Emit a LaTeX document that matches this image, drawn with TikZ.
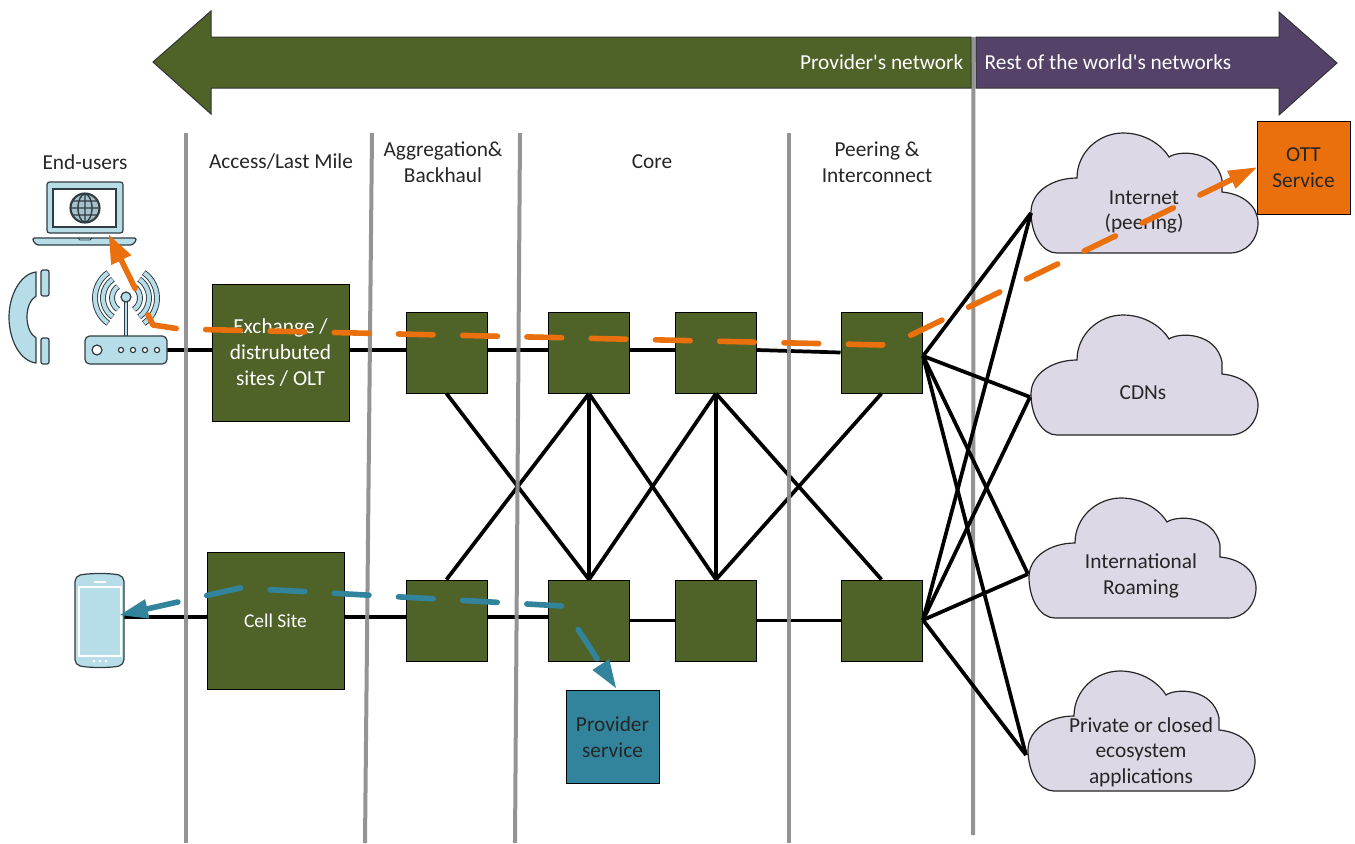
\documentclass[tikz,border=0pt]{standalone}
\usepackage{fontspec}
\setmainfont{Carlito}[Ligatures=TeXOff]
\usetikzlibrary{arrows.meta, positioning}

\definecolor{netgreen}{HTML}{4F6228}
\definecolor{netpurple}{HTML}{554268}
\definecolor{cloudfill}{HTML}{DDD8E6}
\definecolor{iconblue}{HTML}{B7DDE8}
\definecolor{icondark}{HTML}{2F3C42}
\definecolor{routeorange}{HTML}{E9700D}
\definecolor{routeblue}{HTML}{31849B}
\definecolor{divgrey}{HTML}{8E8E8E}

\begin{document}
\begin{tikzpicture}[x=0.75pt, y=-0.75pt,
            label/.style={font=\fontsize{16}{19.2}\selectfont, align=center, text=black!85},
            bandlabel/.style={font=\fontsize{16}{19.2}\selectfont, text=white},
            bandarrow/.style={draw=black!80, line width=0.75pt},
            router/.style={draw=black, fill=netgreen, line width=0.75pt, minimum width=60.75pt, minimum height=60.75pt, inner sep=0pt},
            site/.style={router, minimum width=102.75pt, minimum height=102.75pt, text=white, align=center, font=\fontsize{16}{19.2}\selectfont},
            service/.style={draw=black, line width=0.75pt, minimum width=69.75pt, minimum height=69.75pt, inner sep=0pt, align=center, font=\fontsize{16}{19.2}\selectfont, text=black!85},
            link/.style={line width=2.8pt},
            divider/.style={divgrey, line width=3pt, opacity=0.95},
            route/.style={line width=4.2pt, line cap=round, line join=round, dash pattern=on 26pt off 22.2pt, dash phase=2.5pt},
            icon/.style={draw=icondark, fill=iconblue, line width=0.9pt},
            cloudshape/.pic={
                \path[draw=black!85, fill=cloudfill, line width=0.9pt] (-87,61)
                    .. controls (-102,61) and (-113,42) .. (-113,20)
                    .. controls (-113,0) and (-92,-14) .. (-67,-14)
                    .. controls (-67,-40) and (-45,-59) .. (-21,-59)
                    .. controls (0,-59) and (17,-48) .. (25,-35)
                    .. controls (35,-42) and (72,-42) .. (78,-12)
                    -- (78,0)
                    .. controls (100,2) and (114,15) .. (114,31)
                    .. controls (114,48) and (102,61) .. (86,61) -- cycle;
            }]
    \useasboundingbox (0,0) rectangle (1355,843);

    % Column dividers
    \coordinate (diva) at (186,133);
    \coordinate (divb) at (372,133);
    \coordinate (divc) at (520,133);
    \coordinate (divd) at (789,133);
    \coordinate (dive) at (973.5,37);
    \coordinate (diva2) at (186,843);
    \coordinate (divb2) at (365,843);
    \coordinate (divc2) at (515,843);
    \coordinate (divd2) at (789,843);
    \coordinate (dive2) at (973,835);

    % Band arrows along the top
    \draw[divider] (dive) -- (dive2);
    \draw[bandarrow, fill=netgreen] (971,37) -- (211,37) -- (211,11) -- (153,62) -- (211,114) -- (211,88) -- (971,88) -- cycle;
    \draw[bandarrow, fill=netpurple] (976,37) -- (1279,37) -- (1279,12) -- (1337,63) -- (1279,115) -- (1279,88) -- (976,88) -- cycle;
    \node[bandlabel, anchor=east] (provnet) at (968,62) {Provider's network};
    \node[bandlabel, anchor=west] (restnet) at (980,62) {Rest of the world's networks};

    % Column titles
    \node[label] (endusers) at (85,162) {End-users};
    \node[label] (access) at (281,162) {Access/Last Mile};
    \node[label] (aggr) at (443,162) {Aggregation\&\\Backhaul};
    \node[label] (core) at (652,162) {Core};
    \node[label] (peer) at (877,162) {Peering \&\\Interconnect};

    % Clouds on the right
    \pic at (1144,192) {cloudshape};
    \pic at (1144,374) {cloudshape};
    \pic at (1142,557) {cloudshape};
    \pic at (1141,730) {cloudshape};
    \node[label] (inet) at (1144,212) {Internet\\(peering)};
    \node[label] (cdn) at (1143,393) {CDNs};
    \node[label] (roam) at (1141,576) {International\\Roaming};
    \node[label] (priv) at (1141,752) {Private or closed\\ecosystem\\applications};
    \coordinate (inetport) at (1031,213);
    \coordinate (cdnport) at (1030,397);
    \coordinate (roamport) at (1028,574);
    \coordinate (privport) at (1026,755);

    % Links under the boxes
    \coordinate (rtrport) at (167,350);
    \coordinate (mobport) at (124,617);
    \coordinate (petophub) at (923,356);
    \coordinate (pelowhub) at (923,620);

    % Boxes
    \node[site] (exch) at (280.5,352.5) {Exchange /\\distrubuted\\sites / OLT};
    \node[site, font=\fontsize{14.6}{17.5}\selectfont] (cell) at (275.5,620.5) {Cell Site};
    \node[router] (agtop) at (446.5,352.5) {};
    \node[router] (cotop) at (589,352.5) {};
    \node[router] (crtop) at (716,352.5) {};
    \node[router] (petop) at (881.5,352.5) {};
    \node[router] (aglow) at (446.5,620.5) {};
    \node[router] (colow) at (589,620.5) {};
    \node[router] (crlow) at (716,620.5) {};
    \node[router] (pelow) at (881.5,620.5) {};
    \node[service, fill=routeblue] (prov) at (612.5,737) {Provider\\service};
    \node[service, fill=routeorange] (ott) at (1303.5,167.5) {OTT\\Service};

    % Links
    \draw[link] (rtrport) -- (exch.west |- rtrport);
    \draw[link] (mobport) -- (cell.west |- mobport);
    \draw[link] (exch.east |- rtrport) -- (agtop.west |- rtrport);
    \draw[link] (agtop.east |- rtrport) -- (cotop.west |- rtrport);
    \draw[link] (cotop.east |- rtrport) -- (crtop.west |- rtrport);
    \draw[link] (crtop.east |- rtrport) -- (petop.west);
    \draw[link] (cell.east |- mobport) -- (aglow.west |- mobport);
    \draw[link] (aglow.east |- mobport) -- (colow.west |- mobport);
    \draw[link] (colow.east) -- (crlow.west);
    \draw[link] (crlow.east) -- (pelow.west);
    \draw[link] (agtop.south) -- (colow.north);
    \draw[link] (cotop.south) -- (aglow.north);
    \draw[link] (cotop.south) -- (colow.north);
    \draw[link] (cotop.south) -- (crlow.north);
    \draw[link] (crtop.south) -- (colow.north);
    \draw[link] (crtop.south) -- (crlow.north);
    \draw[link] (crtop.south) -- (pelow.north);
    \draw[link] (petop.south) -- (crlow.north);
    \foreach \port in {inetport, cdnport, roamport, privport} {
        \draw[link] (petophub) -- (\port);
        \draw[link] (pelowhub) -- (\port);
    }

    \draw[divider] (diva) -- (diva2);
    \draw[divider] (divb) -- (divb2);
    \draw[divider] (divc) -- (divc2);
    \draw[divider] (divd) -- (divd2);

    % Laptop
    \draw[icon, rounded corners=2pt] (47,233) -- (47,182) -- (123,182) -- (123,233) -- cycle;
    \draw[icon, fill=white] (53,189) rectangle (116,227);
    \draw[icon, rounded corners=1pt] (33,238) -- (136,238) -- (136,241) -- (132,245) -- (37,245) -- (33,241) -- cycle;
    \draw[icondark, line width=0.7pt] (78,238) -- (80,240) -- (90,240) -- (92,238);
    \draw[icondark, fill=iconblue!70!gray, line width=1.6pt] (85,208) circle (14.5);
    \draw[icondark, line width=1pt] (85,194) -- (85,222) (71,208) -- (99,208) (85,208) ellipse (7 and 14) (73,201) -- (97,201) (73,215) -- (97,215);

    % Handset
    \draw[icon] (36,272) .. controls (20,274) and (9,296) .. (9,317) .. controls (9,340) and (20,361) .. (36,363) -- (36,338) .. controls (30,334) and (27,326) .. (27,317) .. controls (27,308) and (30,300) .. (36,296) -- cycle;
    \draw[icon, rounded corners=1.5pt] (41,270) rectangle (49,296);
    \draw[icon, rounded corners=1.5pt] (41,338) rectangle (49,364);

    % Wireless router
    \foreach \rad in {14, 23, 31} {
        \draw[icondark, line width=4.4pt] (126,298) ++(-55:\rad) arc (-55:55:\rad);
        \draw[icondark, line width=4.4pt] (126,298) ++(125:\rad) arc (125:235:\rad);
        \draw[iconblue, line width=3pt] (126,298) ++(-54:\rad) arc (-54:54:\rad);
        \draw[iconblue, line width=3pt] (126,298) ++(126:\rad) arc (126:234:\rad);
    }
    \draw[icondark, line width=3pt] (126,300) -- (126,337);
    \draw[iconblue, line width=1.5pt] (126,300) -- (126,337);
    \draw[icon] (126,297) circle (5);
    \draw[icon, rounded corners=3.5pt] (85,336) rectangle (167,364);
    \draw[icon, fill=white] (97,350) circle (5);
    \foreach \px in {121,133,145,157} {
        \draw[icon, fill=white] (\px,350) circle (2.6);
    }

    % Smartphone
    \draw[icon, rounded corners=4pt] (75,576) .. controls (90,573) and (110,573) .. (124,576) -- (124,665) .. controls (110,668) and (90,668) .. (75,665) -- cycle;
    \draw[white, line width=0.9pt] (79,587) rectangle (121,656);
    \draw[white, line width=0.9pt] (94,582) -- (106,582);
    \foreach \px in {94,100,106} {
        \fill[white] (\px,661) circle (1.5);
    }

    % Traffic routes
    \coordinate (lapport) at (109,235);
    \draw[route, routeorange, {Triangle[length=21pt, width=17pt, line width=0pt]}-{Triangle[length=21pt, width=15pt, line width=0pt]}] (lapport) -- (153,325) -- (180,329) -- (882,345) -- (905,338) -- (ott.west);
    \coordinate (mobtip) at (120,615);
    \coordinate (provtip) at (616,688);
    \draw[route, routeblue, {Triangle[length=21pt, width=15pt, line width=0pt]}-{Triangle[length=21pt, width=15pt, line width=0pt]}] (mobtip) -- (240,588) -- (563,606) -- (provtip);
\end{tikzpicture}
\end{document}
